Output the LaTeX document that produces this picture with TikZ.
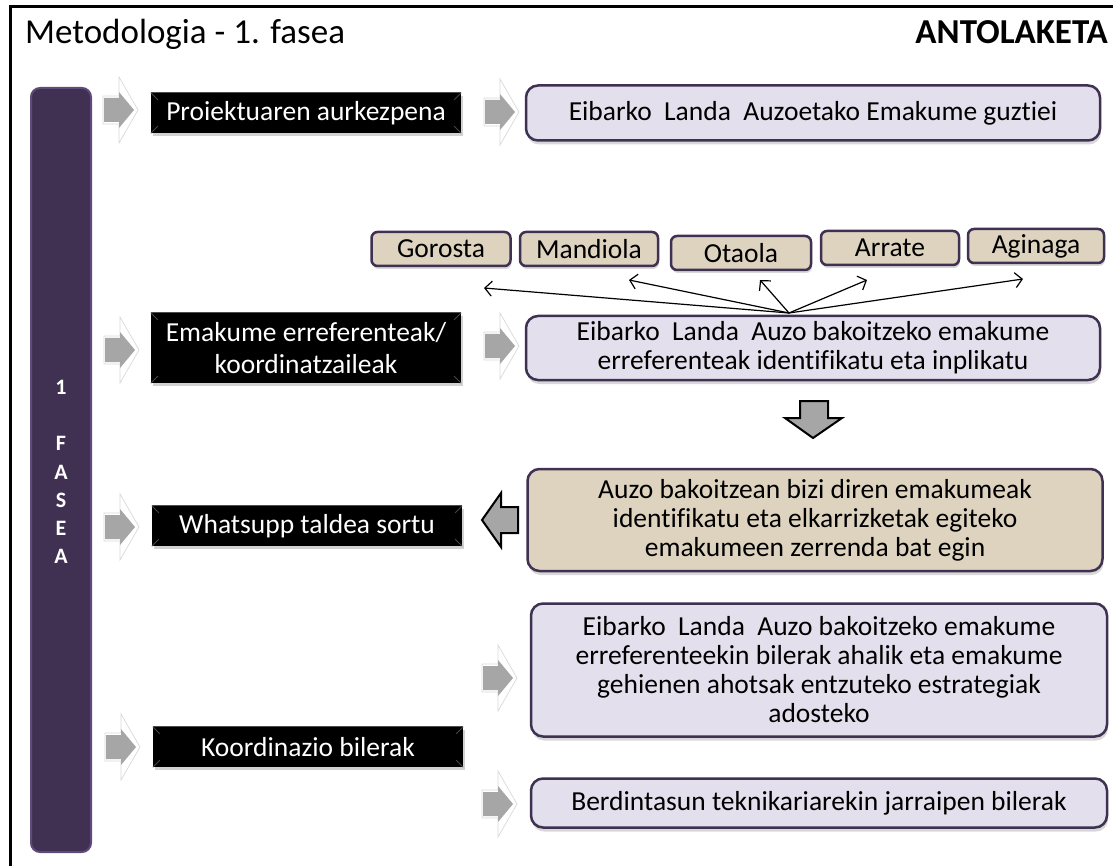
\documentclass[tikz,border=0pt]{standalone}
\usepackage{fontspec}
\setmainfont[Ligatures={NoCommon}]{Carlito}
\usetikzlibrary{shadows,arrows.meta}
\definecolor{lav}{HTML}{E4DFEC}
\definecolor{dpurp}{HTML}{3F3151}
\definecolor{barfill}{HTML}{403152}
\definecolor{barline}{HTML}{604A7B}
\definecolor{tanfill}{HTML}{DDD3BF}
\definecolor{arrgray}{HTML}{A6A6A6}
\begin{document}
\begin{tikzpicture}[x=1pt,y=-1pt,
  every node/.style={font=\fontsize{27.5}{29}\selectfont, inner sep=0pt},
  blackbox/.style={fill=black, text=white, minimum width=310pt, align=center,
    font=\fontsize{27.5}{32}\selectfont,
    drop shadow={opacity=0.35, shadow xshift=2pt, shadow yshift=-3pt}},
  lavbox/.style={fill=lav, draw=dpurp, line width=2.5pt, rounded corners=12pt, align=center,
    minimum width=574pt, drop shadow={opacity=0.3, shadow xshift=1pt, shadow yshift=-4pt}},
  tanbox/.style={lavbox, fill=tanfill},
  nbbox/.style={fill=tanfill, draw=dpurp, line width=2.5pt, rounded corners=6pt,
    minimum height=34pt, drop shadow={opacity=0.3, shadow xshift=1pt, shadow yshift=-3pt}},
  hubline/.style={line width=1.2pt, -{Straight Barb[length=7pt,width=15pt,line width=1.2pt]}},
  blockarr/.style={fill=arrgray, draw=black, line width=2pt, line join=miter},
  garrow/.pic={
    \path[fill=white, draw=gray!30, line width=0.7pt]
      (-16,-14) -- (0,-14) -- (0,-33) -- (19,0) -- (0,33) -- (0,14) -- (-16,14) -- cycle;
    \fill[arrgray] (-15,-12) -- (0,-12) -- (0,-18) -- (15,0) -- (0,18) -- (0,12) -- (-15,12) -- cycle;
  }
]
\useasboundingbox (0,0) rectangle (1113,866);
\fill[white] (0,0) rectangle (1113,866);

% frame
\draw[line width=3pt] (10,866) -- (10,7) -- (1113,7);

% titles
\node[anchor=base west, font=\fontsize{35}{40}\selectfont] (title) at (25,44) {Metodologia - 1. fasea};
\node[anchor=base east, font=\fontsize{35}{40}\selectfont\bfseries] (antol) at (1108,44) {ANTOLAKETA};

% purple bar
\node[fill=barfill, draw=barline, line width=2pt, rounded corners=9pt,
  minimum width=60pt, minimum height=764pt] (bar) at (61,470) {};
\node[text=white, font=\fontsize{22}{28.2}\selectfont\bfseries, align=center] (phase) at (61,472)
  {1\\\mbox{}\\F\\A\\S\\E\\A};

% black boxes
\node[blackbox, minimum height=40pt] (b1) at (306,113) {Proiektuaren aurkezpena};
\node[blackbox, minimum height=70pt] (b2) at (306,348) {Emakume erreferenteak/\\koordinatzaileak};
\node[blackbox, minimum height=40pt] (b3) at (307,526) {Whatsupp taldea sortu};
\node[blackbox, minimum height=40pt] (b4) at (308,747) {Koordinazio bilerak};
\foreach \n in {b1,b2,b3,b4}{
  \draw[gray!55!black, line width=0.8pt]
    (\n.north west) -- ++(7,7) (\n.north east) -- ++(-7,7)
    (\n.south west) -- ++(7,-7) (\n.south east) -- ++(-7,-7);
  \draw[gray!60!black, line width=1pt] (\n.north west) -- (\n.north east);
}

% lavender boxes
\node[lavbox, minimum height=55pt] (l1) at (813,113) {Eibarko\ \ Landa\ \ Auzoetako Emakume guztiei};
\node[lavbox, minimum height=64pt] (l2) at (813,348) {Eibarko\ \ Landa\ \ Auzo bakoitzeko emakume\\erreferenteak identifikatu eta inplikatu};
\node[tanbox, minimum width=575pt, minimum height=102pt] (t1) at (815,520)
  {Auzo bakoitzean bizi diren emakumeak\\identifikatu eta elkarrizketak egiteko\\emakumeen zerrenda bat egin};
\node[lavbox, minimum width=576pt, minimum height=133pt] (l3) at (819,670)
  {Eibarko\ \ Landa\ \ Auzo bakoitzeko emakume\\erreferenteekin bilerak ahalik eta emakume\\gehienen ahotsak entzuteko estrategiak\\adosteko};
\node[lavbox, minimum width=576pt, minimum height=49pt] (l4) at (819,803) {Berdintasun teknikariarekin jarraipen bilerak};

% neighbourhoods
\node[nbbox, minimum width=139pt] (gor) at (441,249) {Gorosta};
\node[nbbox, minimum width=138pt] (man) at (589,249) {Mandiola};
\node[nbbox, minimum width=140pt] (ota) at (741,253) {Otaola};
\node[nbbox, minimum width=138pt] (arr) at (890,248) {Arrate};
\node[nbbox, minimum width=136pt] (agi) at (1036,246) {Aginaga};

% hub connectors
\coordinate (hub) at (789,313);
\coordinate (tgor) at (484,288);
\coordinate (tman) at (629,280);
\coordinate (tota) at (760,280);
\coordinate (tarr) at (867,280);
\coordinate (tagi) at (1023,279);
\foreach \t in {tgor,tman,tota,tarr,tagi}{ \draw[hubline] (hub) -- (\t); }

% gray block arrows
\pic at (119,110) {garrow};
\pic at (500,112) {garrow};
\pic at (120,350) {garrow};
\pic at (500,346) {garrow};
\pic at (120,527) {garrow};
\pic at (121,747) {garrow};
\pic at (498,678) {garrow};
\pic at (498,804) {garrow};

% outlined arrows
\draw[blockarr] (800,401) -- (828,401) -- (828,418) -- (842,418) -- (813,438) -- (785,418) -- (800,418) -- cycle;
\draw[blockarr] (518,507) -- (518,533) -- (501,533) -- (501,547) -- (482,520) -- (501,493) -- (501,507) -- cycle;
\end{tikzpicture}
\end{document}
